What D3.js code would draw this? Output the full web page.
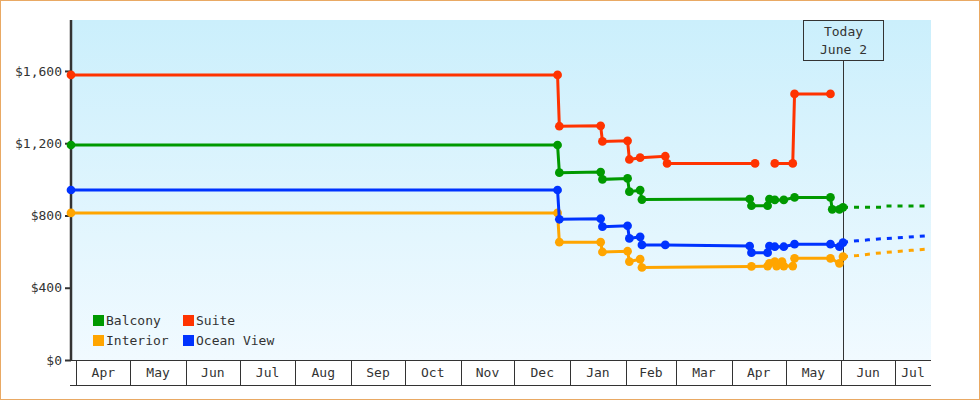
<!DOCTYPE html>
<meta charset="utf-8">
<style>

body {
  margin: 0;
  background: #fff;
}

text {
  font-family: "DejaVu Sans Mono", "Liberation Mono", monospace;
  font-size: 13px;
  fill: #333;
}

</style>
<svg width="980" height="400"></svg>
<script src="https://d3js.org/d3.v7.min.js"></script>
<script>

// price history, [date, price]; null = no data
var balcony = [
  ["2024-03-29", 1190], ["2024-12-25", 1190], ["2024-12-26", 1037], ["2025-01-18", 1040],
  ["2025-01-19", 1000], ["2025-02-02", 1005], ["2025-02-03", 932], ["2025-02-09", 940],
  ["2025-02-10", 888], ["2025-04-11", 891], ["2025-04-12", 854], ["2025-04-21", 854],
  ["2025-04-22", 891], ["2025-04-25", 886], ["2025-04-30", 886], ["2025-05-06", 900],
  ["2025-05-26", 900], ["2025-05-27", 834], ["2025-05-31", 834], ["2025-06-02", 845]
];
var suite = [
  ["2024-03-29", 1578], ["2024-12-25", 1578], ["2024-12-26", 1294], ["2025-01-18", 1296],
  ["2025-01-19", 1210], ["2025-02-02", 1213], ["2025-02-03", 1110], ["2025-02-09", 1120],
  ["2025-02-23", 1128], ["2025-02-24", 1088], ["2025-04-14", 1088], ["2025-04-19", null],
  ["2025-04-25", 1088], ["2025-05-05", 1088], ["2025-05-06", 1473], ["2025-05-26", 1473]
];
var oceanView = [
  ["2024-03-29", 941], ["2024-12-25", 941], ["2024-12-26", 779], ["2025-01-18", 782],
  ["2025-01-19", 738], ["2025-02-02", 743], ["2025-02-03", 673], ["2025-02-09", 682],
  ["2025-02-10", 637], ["2025-02-23", 637], ["2025-04-11", 631], ["2025-04-12", 594],
  ["2025-04-21", 594], ["2025-04-22", 631], ["2025-04-25", 627], ["2025-04-30", 627],
  ["2025-05-06", 641], ["2025-05-26", 641], ["2025-05-31", 627], ["2025-06-02", 650]
];
var interior = [
  ["2024-03-29", 814], ["2024-12-25", 814], ["2024-12-26", 652], ["2025-01-18", 652],
  ["2025-01-19", 598], ["2025-02-02", 602], ["2025-02-03", 545], ["2025-02-09", 558],
  ["2025-02-10", 512], ["2025-04-12", 518], ["2025-04-21", 520], ["2025-04-22", 535],
  ["2025-04-25", 545], ["2025-04-26", 520], ["2025-04-29", 545], ["2025-04-30", 520],
  ["2025-05-05", 520], ["2025-05-06", 563], ["2025-05-26", 563], ["2025-05-31", 535],
  ["2025-06-02", 572]
];

// forecast after today
var balconyForecast = [["2025-06-02", 845], ["2025-06-24", 845], ["2025-06-25", 853], ["2025-07-20", 853]];
var oceanViewForecast = [["2025-06-02", 652], ["2025-06-10", 660], ["2025-06-16", 665], ["2025-06-25", 672], ["2025-07-05", 678], ["2025-07-20", 688]];
var interiorForecast = [["2025-06-02", 572], ["2025-06-10", 578], ["2025-06-20", 590], ["2025-07-01", 600], ["2025-07-10", 607], ["2025-07-20", 615]];

var seriesNames = ["Interior", "Ocean View", "Balcony", "Suite"];
var seriesColors = ["#ffa500", "#0033ff", "#009900", "#ff3300"];
var legendOrder = ["Balcony", "Suite", "Interior", "Ocean View"];
var yTicks = [0, 400, 800, 1200, 1600];
var today = "2025-06-02";
var todayLabel = ["Today", "June 2"];

var parse = d3.utcParse("%Y-%m-%d");
var priceHistory = { "Interior": interior, "Ocean View": oceanView, "Balcony": balcony, "Suite": suite };
var priceForecast = { "Interior": interiorForecast, "Ocean View": oceanViewForecast, "Balcony": balconyForecast };

var svg = d3.select("svg"),
    margin = {top: 20, right: 49, bottom: 40, left: 71},
    width = +svg.attr("width") - margin.left - margin.right,
    height = +svg.attr("height") - margin.top - margin.bottom;

var color = d3.scaleOrdinal().domain(seriesNames).range(seriesColors);

var x = d3.scaleUtc()
    .domain([parse("2024-03-29"), parse("2025-07-21")])
    .range([0, width]);

var y = d3.scaleLinear()
    .domain([0, 1882])
    .range([height, 0]);

// outer frame
svg.append("rect")
    .attr("x", 0.5).attr("y", 0.5)
    .attr("width", 979).attr("height", 399)
    .attr("fill", "#fff")
    .attr("stroke", "#e9a964");

var grad = svg.append("defs").append("linearGradient")
    .attr("id", "bg")
    .attr("x1", 0).attr("y1", 0).attr("x2", 0).attr("y2", 1);
grad.append("stop").attr("offset", "0%").attr("stop-color", "#cbeffc");
grad.append("stop").attr("offset", "100%").attr("stop-color", "#f1faff");

var g = svg.append("g").attr("transform", "translate(" + margin.left + "," + margin.top + ")");

g.append("rect")
    .attr("width", width)
    .attr("height", height)
    .attr("fill", "url(#bg)");

// month band under the plot
var months = d3.utcMonth.range(d3.utcMonth.ceil(x.domain()[0]), x.domain()[1]);
var band = g.append("g").attr("transform", "translate(0," + height + ")");

band.append("line")
    .attr("x1", 0).attr("x2", width)
    .attr("y1", 0.5).attr("y2", 0.5)
    .attr("stroke", "#333");
band.append("line")
    .attr("x1", -1).attr("x2", width)
    .attr("y1", 25.5).attr("y2", 25.5)
    .attr("stroke", "#333");

band.selectAll(".mtick")
    .data(months)
    .enter().append("line")
    .attr("x1", function(d) { return Math.round(x(d)) + 0.5; })
    .attr("x2", function(d) { return Math.round(x(d)) + 0.5; })
    .attr("y1", 0).attr("y2", 25)
    .attr("stroke", "#333");

band.selectAll(".mlabel")
    .data(months)
    .enter().append("text")
    .attr("x", function(d) {
      var end = d3.min([d3.utcMonth.offset(d, 1), x.domain()[1]]);
      return (x(d) + x(end)) / 2;
    })
    .attr("y", 17)
    .attr("text-anchor", "middle")
    .text(d3.utcFormat("%b"));

// y axis
var yAxis = g.append("g")
    .call(d3.axisLeft(y)
      .tickValues(yTicks)
      .tickSize(6)
      .tickPadding(3)
      .tickFormat(function(d) { return "$" + d3.format(",")(d); }));
yAxis.select(".domain").remove();
yAxis.selectAll(".tick line").attr("stroke", "#333").attr("stroke-width", 2);
yAxis.selectAll(".tick text").attr("fill", "#333").style("font-size", "13px").style("font-family", "DejaVu Sans Mono, monospace");
g.append("line")
    .attr("x1", 0).attr("x2", 0)
    .attr("y1", 0).attr("y2", height + 1)
    .attr("stroke", "#333")
    .attr("stroke-width", 2.5);

// today marker
var tx = Math.round(x(parse(today))) + 0.5;
g.append("line")
    .attr("x1", tx).attr("x2", tx)
    .attr("y1", 40).attr("y2", height)
    .attr("stroke", "#333");
g.append("rect")
    .attr("x", tx - 40).attr("y", 0.5)
    .attr("width", 80).attr("height", 40)
    .attr("fill", "none")
    .attr("stroke", "#333");
g.selectAll(".today")
    .data(todayLabel)
    .enter().append("text")
    .attr("x", tx)
    .attr("y", function(d, i) { return 16 + i * 18; })
    .attr("text-anchor", "middle")
    .text(function(d) { return d; });

var line = d3.line()
    .defined(function(d) { return d[1] != null; })
    .x(function(d) { return x(parse(d[0])); })
    .y(function(d) { return y(d[1]); });

// dashed forecasts
seriesNames.forEach(function(name) {
  if (!priceForecast[name]) return;
  g.append("path")
      .datum(priceForecast[name])
      .attr("fill", "none")
      .attr("stroke", color(name))
      .attr("stroke-width", 3)
      .attr("stroke-dasharray", "5,6")
      .attr("d", line);
});

seriesNames.forEach(function(name) {
  var s = g.append("g");
  s.append("path")
      .datum(priceHistory[name])
      .attr("fill", "none")
      .attr("stroke", color(name))
      .attr("stroke-width", 3)
      .attr("d", line);
  s.selectAll("path.pt")
      .data(priceHistory[name].filter(function(d) { return d[1] != null; }))
      .enter().append("path")
      .attr("class", "pt")
      .attr("fill", color(name))
      .attr("transform", function(d) { return "translate(" + x(parse(d[0])) + "," + y(d[1]) + ")"; })
      .attr("d", d3.symbol(d3.symbolCircle, 60));
});

// legend
var legend = g.selectAll(".legend")
    .data(legendOrder)
    .enter().append("g")
    .attr("transform", function(d, i) { return "translate(" + (22 + (i % 2) * 90) + "," + (295 + Math.floor(i / 2) * 20) + ")"; });
legend.append("rect")
    .attr("width", 11).attr("height", 11)
    .attr("fill", function(d) { return color(d); });
legend.append("text")
    .attr("x", 13)
    .attr("y", 10)
    .text(function(d) { return d; });

</script>
